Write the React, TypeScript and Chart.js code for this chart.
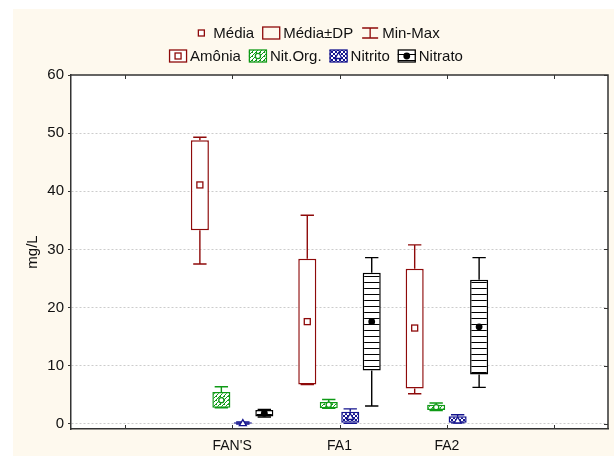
import React, { useEffect, useRef } from 'react';
import { Chart, registerables } from 'chart.js';

Chart.register(...registerables);

const categories = ["FAN'S", 'FA1', 'FA2'];
const axisLabels = ['', ...categories, ''];
const yTicks = [0, 10, 20, 30, 40, 50, 60];

const amoniaMean = [41.1, 17.6, 16.5];
const amoniaLow = [33.3, 6.8, 6.1];
const amoniaHigh = [48.8, 28.4, 26.7];
const amoniaMin = [27.5, 6.8, 5.2];
const amoniaMax = [49.3, 35.9, 30.8];

const nitOrgMean = [4.1, 3.3, 2.9];
const nitOrgLow = [2.8, 2.7, 2.4];
const nitOrgHigh = [5.5, 3.8, 3.3];
const nitOrgMin = [2.8, 2.7, 2.3];
const nitOrgMax = [6.4, 4.2, 3.6];

const nitritoMean = [0.15, 1.2, 0.6];
const nitritoLow = [0.05, 0.2, 0.2];
const nitritoHigh = [0.3, 2.1, 1.35];
const nitritoMin = [0.0, 0.1, 0.2];
const nitritoMax = [0.35, 2.6, 1.6];

const nitratoMean = [1.85, 17.6, 16.7];
const nitratoLow = [1.3, 9.2, 8.5];
const nitratoHigh = [2.4, 26.0, 24.8];
const nitratoMin = [1.2, 3.1, 6.3];
const nitratoMax = [2.5, 28.6, 28.6];

const statLegend = ['Média', 'Média±DP', 'Min-Max'];
const FONT = '"Liberation Sans", Arial, Helvetica, sans-serif';
const CREAM = '#FEF9EE';

function makePattern(kind: string, color: string): CanvasPattern | string {
  const c = document.createElement('canvas');
  const ctx = c.getContext('2d');
  if (!ctx) return color;
  if (kind === 'diag') {
    c.width = 4; c.height = 4;
    ctx.fillStyle = '#ffffff'; ctx.fillRect(0, 0, 4, 4);
    ctx.fillStyle = color;
    for (let i = 0; i < 4; i++) { ctx.fillRect(i, 3 - i, 1, 1); }
    ctx.fillRect(0, 0, 1, 1);
  } else if (kind === 'cross') {
    c.width = 4; c.height = 4;
    ctx.fillStyle = '#ffffff'; ctx.fillRect(0, 0, 4, 4);
    ctx.fillStyle = color;
    for (let i = 0; i < 4; i++) { ctx.fillRect(i, i, 1, 1); ctx.fillRect(i, 3 - i, 1, 1); }
  } else {
    c.width = 6; c.height = 6;
    ctx.fillStyle = '#ffffff'; ctx.fillRect(0, 0, 6, 6);
    ctx.fillStyle = color;
    ctx.fillRect(0, 0, 6, 1);
  }
  const p = ctx.createPattern(c, 'repeat');
  return p || color;
}

type Series = {
  name: string; color: string; kind: string; marker: string;
  mean: number[]; low: number[]; high: number[]; min: number[]; max: number[];
};

const series: Series[] = [
  { name: 'Amônia', color: '#8E0A0A', kind: 'none', marker: 'square', mean: amoniaMean, low: amoniaLow, high: amoniaHigh, min: amoniaMin, max: amoniaMax },
  { name: 'Nit.Org.', color: '#0F9A16', kind: 'diag', marker: 'circle', mean: nitOrgMean, low: nitOrgLow, high: nitOrgHigh, min: nitOrgMin, max: nitOrgMax },
  { name: 'Nitrito', color: '#14148E', kind: 'cross', marker: 'triangle', mean: nitritoMean, low: nitritoLow, high: nitritoHigh, min: nitritoMin, max: nitritoMax },
  { name: 'Nitrato', color: '#000000', kind: 'hlines', marker: 'dot', mean: nitratoMean, low: nitratoLow, high: nitratoHigh, min: nitratoMin, max: nitratoMax },
];

function drawMarker(ctx: CanvasRenderingContext2D, marker: string, color: string, x: number, y: number) {
  ctx.save();
  ctx.lineWidth = 1.3;
  ctx.strokeStyle = color;
  ctx.fillStyle = '#ffffff';
  if (marker === 'square') {
    ctx.fillRect(x - 3, y - 3, 6, 6);
    ctx.strokeRect(x - 3, y - 3, 6, 6);
  } else if (marker === 'circle') {
    ctx.beginPath(); ctx.arc(x, y, 2.6, 0, Math.PI * 2); ctx.fill(); ctx.stroke();
  } else if (marker === 'triangle') {
    ctx.beginPath(); ctx.moveTo(x, y - 3.5); ctx.lineTo(x + 3.5, y + 2.5); ctx.lineTo(x - 3.5, y + 2.5); ctx.closePath(); ctx.fill(); ctx.stroke();
  } else {
    ctx.fillStyle = color;
    ctx.beginPath(); ctx.arc(x, y, 3.4, 0, Math.PI * 2); ctx.fill();
  }
  ctx.restore();
}

export default function App() {
  const ref = useRef<HTMLCanvasElement | null>(null);
  useEffect(() => {
    const canvas = ref.current;
    if (!canvas) return;
    const fills = series.map((s) => (s.kind === 'none' ? '#ffffff' : makePattern(s.kind, s.color)));

    const boxPlugin = {
      id: 'boxExtras',
      beforeDraw(chart: any) {
        const { ctx, chartArea } = chart;
        ctx.save();
        ctx.fillStyle = CREAM;
        ctx.fillRect(13, 9, chart.width - 13, chart.height - 9);
        ctx.fillStyle = '#ffffff';
        ctx.fillRect(chartArea.left, chartArea.top, chartArea.right - chartArea.left, chartArea.bottom - chartArea.top);
        ctx.restore();
      },
      afterDatasetsDraw(chart: any) {
        const { ctx } = chart;
        const ys = chart.scales.y;
        series.forEach((s, di) => {
          const meta = chart.getDatasetMeta(di);
          categories.forEach((_, ci) => {
            const bar: any = meta.data[ci + 1];
            if (!bar) return;
            const x = bar.x;
            const capW = bar.width * 0.74;
            const yHi = ys.getPixelForValue(s.high[ci]);
            const yLo = ys.getPixelForValue(s.low[ci]);
            const yMax = ys.getPixelForValue(s.max[ci]);
            const yMin = ys.getPixelForValue(s.min[ci]);
            ctx.save();
            ctx.strokeStyle = s.color;
            ctx.lineWidth = 1.4;
            ctx.beginPath();
            ctx.moveTo(x, yHi); ctx.lineTo(x, yMax);
            ctx.moveTo(x - capW / 2, yMax); ctx.lineTo(x + capW / 2, yMax);
            ctx.moveTo(x, yLo); ctx.lineTo(x, yMin);
            ctx.moveTo(x - capW / 2, yMin); ctx.lineTo(x + capW / 2, yMin);
            ctx.stroke();
            ctx.restore();
            drawMarker(ctx, s.marker, s.color, x, ys.getPixelForValue(s.mean[ci]));
          });
        });
      },
      afterDraw(chart: any) {
        const { ctx, chartArea } = chart;
        const xs = chart.scales.x;
        const ys = chart.scales.y;
        ctx.save();
        ctx.strokeStyle = '#333333';
        ctx.lineWidth = 1.5;
        ctx.beginPath();
        ctx.moveTo(chartArea.left, chartArea.top); ctx.lineTo(chartArea.right, chartArea.top);
        ctx.lineTo(chartArea.right, chartArea.bottom);
        ctx.stroke();
        ctx.lineWidth = 1;
        ctx.beginPath();
        for (let i = 0; i < axisLabels.length; i++) {
          const px = Math.round(xs.getPixelForTick(i)) + 0.5;
          ctx.moveTo(px, chartArea.bottom); ctx.lineTo(px, chartArea.bottom - 4);
          ctx.moveTo(px, chartArea.top); ctx.lineTo(px, chartArea.top + 4);
        }
        yTicks.forEach((v) => {
          const py = Math.round(ys.getPixelForValue(v)) + 0.5;
          ctx.moveTo(chartArea.right, py); ctx.lineTo(chartArea.right - 4, py);
        });
        ctx.stroke();

        // legend
        ctx.font = `15px ${FONT}`;
        ctx.textBaseline = 'middle';
        ctx.textAlign = 'left';
        const sym = 18, gapT = 3, gapI = 8, cx = 316;
        const rowWidth = (labels: string[]) =>
          labels.reduce((acc, t) => acc + sym + gapT + ctx.measureText(t).width, 0) + gapI * (labels.length - 1);
        // row 1
        const y1 = 33;
        let x = cx - rowWidth(statLegend) / 2;
        const red = series[0].color;
        statLegend.forEach((t, i) => {
          ctx.strokeStyle = red;
          ctx.lineWidth = 1.3;
          if (i === 0) {
            ctx.fillStyle = '#fff';
            ctx.fillRect(x + 6, y1 - 3, 6, 6);
            ctx.strokeRect(x + 6, y1 - 3, 6, 6);
          } else if (i === 1) {
            ctx.strokeRect(x + 0.5, y1 - 6, sym - 1, 12);
          } else {
            ctx.beginPath();
            ctx.moveTo(x + 1, y1 - 5); ctx.lineTo(x + sym - 1, y1 - 5);
            ctx.moveTo(x + sym / 2, y1 - 5); ctx.lineTo(x + sym / 2, y1 + 5);
            ctx.moveTo(x + 1, y1 + 5); ctx.lineTo(x + sym - 1, y1 + 5);
            ctx.stroke();
          }
          ctx.fillStyle = '#111';
          ctx.fillText(t, x + sym + gapT, y1 + 1);
          x += sym + gapT + ctx.measureText(t).width + gapI;
        });
        // row 2
        const y2 = 56;
        const names = series.map((s) => s.name);
        x = cx - rowWidth(names) / 2;
        series.forEach((s, i) => {
          ctx.fillStyle = fills[i] as any;
          ctx.fillRect(x, y2 - 6, sym, 12);
          ctx.strokeStyle = s.color;
          ctx.lineWidth = 1.3;
          ctx.strokeRect(x + 0.5, y2 - 6, sym - 1, 12);
          drawMarker(ctx, s.marker, s.color, x + sym / 2, y2);
          ctx.fillStyle = '#111';
          ctx.fillText(s.name, x + sym + gapT, y2 + 1);
          x += sym + gapT + ctx.measureText(s.name).width + gapI;
        });
        ctx.restore();
      },
    };

    const chart = new Chart(canvas, {
      type: 'bar',
      data: {
        labels: axisLabels,
        datasets: series.map((s, i) => ({
          label: s.name,
          data: [null, ...categories.map((_, ci) => [s.low[ci], s.high[ci]]), null] as any,
          backgroundColor: fills[i] as any,
          borderColor: s.color,
          borderWidth: 1.5,
          borderSkipped: false,
          categoryPercentage: 0.8,
          barPercentage: 0.84,
        })),
      },
      options: {
        animation: false,
        responsive: false,
        maintainAspectRatio: false,
        layout: { padding: { top: 75, right: 6, left: 0, bottom: 0 } },
        plugins: { legend: { display: false }, tooltip: { enabled: false } },
        scales: {
          x: {
            type: 'category',
            offset: true,
            grid: { display: false },
            border: { display: true, color: '#333333', width: 1.5 },
            ticks: { font: { family: FONT, size: 14 }, color: '#111', padding: 1, autoSkip: false, maxRotation: 0 },
            afterFit: (s: any) => { s.height = 27; },
          },
          y: {
            min: -0.86,
            max: 60,
            afterBuildTicks: (s: any) => { s.ticks = yTicks.map((v) => ({ value: v })); },
            afterFit: (s: any) => { s.width = 71; },
            grid: {
              color: (c: any) => (c.tick && c.tick.value === 60 ? 'rgba(0,0,0,0)' : '#cccccc'),
              lineWidth: 1,
              drawTicks: true,
              tickLength: 3,
              tickColor: '#333333',
              tickBorderDash: [],
            } as any,
            border: { display: true, color: '#333333', width: 1.5, dash: [2, 2] },
            ticks: { font: { family: FONT, size: 15 }, color: '#111', padding: 4 },
            title: { display: true, text: 'mg/L', font: { family: FONT, size: 15 }, color: '#111', padding: { top: 24, bottom: 0 } },
          },
        },
      },
      plugins: [boxPlugin],
    } as any);
    return () => chart.destroy();
  }, []);

  return (
    <div style={{ position: 'absolute', left: 0, top: 0, width: 614, height: 456 }}>
      <canvas ref={ref} width={614} height={456} style={{ display: 'block', width: 614, height: 456 }} />
    </div>
  );
}
